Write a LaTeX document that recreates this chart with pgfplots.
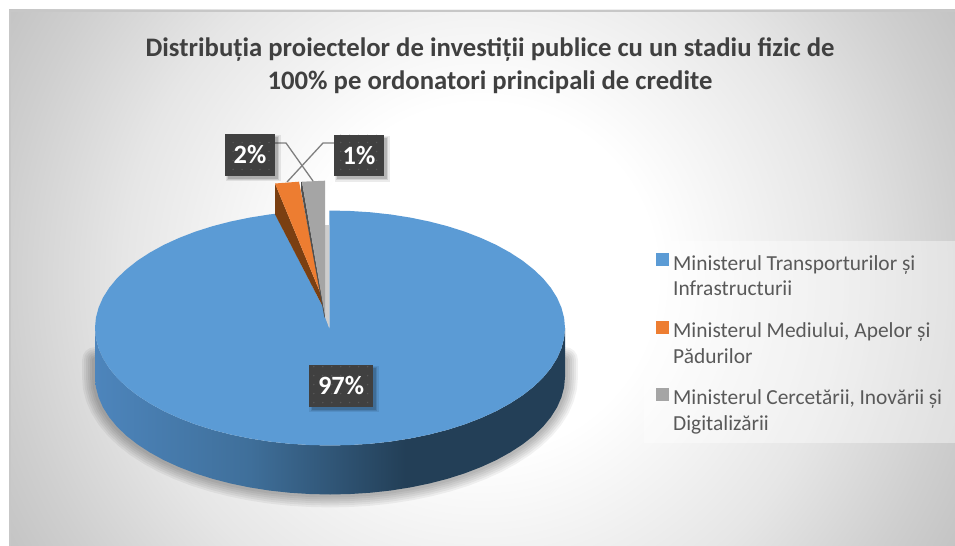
\documentclass[border=0pt]{standalone}
\usepackage{fontspec}
\setmainfont{Carlito}
\usepackage{pgfplots}
\usepackage{pgfplotstable}
\pgfplotsset{compat=1.18}
\usetikzlibrary{patterns.meta,shadows}
\definecolor{blueTop}{HTML}{5B9BD5}
\definecolor{orangeTop}{HTML}{ED7D31}
\definecolor{grayTop}{HTML}{A5A5A5}
\definecolor{brownSide}{HTML}{7A3F12}
\definecolor{graySide}{HTML}{505050}
\definecolor{grayWall}{HTML}{CDCDCD}
\definecolor{wallA}{HTML}{4D85BC}
\definecolor{wallM}{HTML}{3F6F9A}
\definecolor{wallB}{HTML}{233F57}
\definecolor{bgEnd}{HTML}{C4C4C4}
\definecolor{bgMid}{HTML}{E6E6E6}
\definecolor{bgOut}{HTML}{CFCFCF}
\definecolor{labelBox}{HTML}{404040}
\definecolor{labelDot}{HTML}{585858}
\definecolor{leader}{HTML}{7F7F7F}
\definecolor{titleText}{HTML}{404040}
\definecolor{legendText}{HTML}{595959}
% pgf maps a path's box onto the middle 25bp..75bp of a shading
\pgfdeclareradialshading{chartbg}{\pgfpointorigin}{
  color(0bp)=(white); color(8bp)=(white); color(16.5bp)=(bgMid);
  color(22bp)=(bgOut); color(25bp)=(bgEnd); color(50bp)=(bgEnd)}
\pgfdeclarehorizontalshading{pieside}{100bp}{
  color(0bp)=(wallA); color(25bp)=(wallA); color(41.5bp)=(wallM); color(58bp)=(wallB); color(100bp)=(wallB)}

% lower edge of the pie's side wall, for the soft shadow
\pgfplotstableread{
x y
95 360
95 377
95.9 387.2
98.6 397.4
103.0 407.4
109.2 417.2
117.0 426.7
126.5 435.8
137.5 444.4
150.0 452.5
163.8 460.1
178.9 467.0
195.2 473.3
212.5 478.8
230.7 483.5
249.6 487.4
269.2 490.5
289.2 492.7
309.5 494.0
330 494.5
350.5 494.0
370.8 492.7
390.8 490.5
410.4 487.4
429.3 483.5
447.5 478.8
464.8 473.3
481.1 467.0
496.2 460.1
510.0 452.5
522.5 444.4
533.5 435.8
543.0 426.7
550.8 417.2
557.0 407.4
561.4 397.4
564.1 387.2
565 377
565 360
}\wallbottom

\tikzset{
  pct/.style={
    fill=labelBox, postaction={pattern={Dots[distance=9pt,radius=0.8pt]}, pattern color=labelDot},
    general shadow={fill=black, opacity=.08, shadow xshift=3pt, shadow yshift=-3pt, shadow scale=1.10},
    general shadow={fill=black, opacity=.10, shadow xshift=3pt, shadow yshift=-3pt, shadow scale=1.04},
    general shadow={fill=black, opacity=.14, shadow xshift=3pt, shadow yshift=-3pt},
    minimum width=50pt, minimum height=42pt, inner sep=0pt,
    text=white, font=\fontsize{26.5}{30}\selectfont\bfseries},
}

\begin{document}
\begin{tikzpicture}
\begin{axis}[
  width=955bp, height=546bp, scale only axis,
  xmin=0, xmax=955, ymin=0, ymax=546, y dir=reverse,
  axis lines=none,
  title={Distribuția proiectelor de investiții publice cu un stadiu fizic de\\100\% pe ordonatori principali de credite},
  title style={at={(axis cs:490,44)}, anchor=north, align=center, text=titleText,
    inner sep=0pt, font=\fontsize{26.8}{33}\selectfont\bfseries},
  legend style={at={(axis cs:656,253)}, anchor=north west, draw=none, fill=none,
    text=legendText, font=\fontsize{21.5}{26}\selectfont, inner sep=0pt,
    row sep=47pt},
  legend cell align=left,
  legend image code/.code={
    \fill[#1] (0pt,-3pt) rectangle (13pt,10pt);
    \path (15pt,0pt);},
]
% page extent
\path (axis cs:0,0) rectangle (axis cs:955,546);
% background
\begin{scope}
  \clip (axis cs:9,10) rectangle (axis cs:955,546);
  \shade[shading=chartbg] (axis cs:482,278) circle [radius=544bp];
\end{scope}
\addplot[forget plot, draw=black!22, line width=2pt] coordinates {(10,546) (10,11) (955,11)};
% legend panel
\addplot[forget plot, draw=none, fill=white, fill opacity=0.4] coordinates {(644,241) (955,241) (955,443) (644,443)} --cycle;

% shadow under the pie
\pgfplotsinvokeforeach{26,22,18,14,10,6}{
  \addplot[forget plot, draw=black, opacity=0.05, line width=#1pt, line join=round, line cap=round] table {\wallbottom};
}

% side wall
\addplot[forget plot, draw=none, shade, shading=pieside] coordinates {
 (565,328) (564.1,338.2) (561.4,348.4) (557.0,358.4) (550.8,368.2) (543.0,377.7) (533.5,386.8) (522.5,395.4)
 (510.0,403.5) (496.2,411.1) (481.1,418.0) (464.8,424.3) (447.5,429.8) (429.3,434.5) (410.4,438.4) (390.8,441.5)
 (370.8,443.7) (350.5,445.0) (330,445.5) (309.5,445.0) (289.2,443.7) (269.2,441.5) (249.6,438.4) (230.7,434.5)
 (212.5,429.8) (195.2,424.3) (178.9,418.0) (163.8,411.1) (150.0,403.5) (137.5,395.4) (126.5,386.8) (117.0,377.7)
 (109.2,368.2) (103.0,358.4) (98.6,348.4) (95.9,338.2) (95,328)
 (95,377) (95.9,387.2) (98.6,397.4) (103.0,407.4) (109.2,417.2) (117.0,426.7) (126.5,435.8) (137.5,444.4)
 (150.0,452.5) (163.8,460.1) (178.9,467.0) (195.2,473.3) (212.5,478.8) (230.7,483.5) (249.6,487.4) (269.2,490.5)
 (289.2,492.7) (309.5,494.0) (330,494.5) (350.5,494.0) (370.8,492.7) (390.8,490.5) (410.4,487.4) (429.3,483.5)
 (447.5,478.8) (464.8,473.3) (481.1,467.0) (496.2,460.1) (510.0,452.5) (522.5,444.4) (533.5,435.8) (543.0,426.7)
 (550.8,417.2) (557.0,407.4) (561.4,397.4) (564.1,387.2) (565,377)
} --cycle;

% 97% slice
\addplot[draw=none, fill=blueTop] coordinates {
 (329.3,328.3) (329.3,210.5) (350.5,211.0) (370.8,212.3) (390.8,214.5) (410.4,217.6) (429.3,221.5) (447.5,226.2)
 (464.8,231.7) (481.1,238.0) (496.2,244.9) (510.0,252.5) (522.5,260.6) (533.5,269.3) (543.0,278.3) (550.8,287.8)
 (557.0,297.6) (561.4,307.6) (564.1,317.8) (565,328) (564.1,338.2) (561.4,348.4) (557.0,358.4) (550.8,368.2)
 (543.0,377.7) (533.5,386.8) (522.5,395.4) (510.0,403.5) (496.2,411.1) (481.1,418.0) (464.8,424.3) (447.5,429.8)
 (429.3,434.5) (410.4,438.4) (390.8,441.5) (370.8,443.7) (350.5,445.0) (330,445.5) (309.5,445.0) (289.2,443.7)
 (269.2,441.5) (249.6,438.4) (230.7,434.5) (212.5,429.8) (195.2,424.3) (178.9,418.0) (163.8,411.1) (150.0,403.5)
 (137.5,395.4) (126.5,386.8) (117.0,377.7) (109.2,368.2) (103.0,358.4) (98.6,348.4) (95.9,338.2) (95,328)
 (95.9,317.8) (98.6,307.6) (103.0,297.6) (109.2,287.8) (117.0,278.3) (126.5,269.3) (137.5,260.6) (150.0,252.5)
 (163.8,244.9) (178.9,238.0) (195.2,231.7) (212.5,226.2) (230.7,221.5) (249.6,217.6) (269.2,214.5) (275,213.8)
 (323,307)
} --cycle;
\addlegendentry{\parbox[t]{270pt}{Ministerul Transporturilor și\\Infrastructurii}}
\addplot[forget plot, draw=none, fill=grayWall] coordinates {(325,225) (329.3,225) (329.3,328.3) (325,317)} --cycle;

% 2% slice
\addplot[forget plot, draw=none, fill=brownSide] coordinates {(275,183.5) (275,214.3) (323,307) (322,297)} --cycle;
\addplot[draw=none, fill=orangeTop] coordinates {(275,183.5) (299,181.7) (322,297)} --cycle;
\addlegendentry{\parbox[t]{270pt}{Ministerul Mediului, Apelor și\\Pădurilor}}

% 1% slice
\addplot[forget plot, draw=none, fill=graySide] coordinates {(301,182.3) (302,181.7) (325,315) (324.5,318) (301,190)} --cycle;
\addplot[draw=none, fill=grayTop] coordinates {(302,181.7) (325,180.7) (325,316)} --cycle;
\addlegendentry{\parbox[t]{270pt}{Ministerul Cercetării, Inovării și\\Digitalizării}}

% leader lines
\addplot[forget plot, leader, line width=1.3pt] coordinates {(275,143) (286,143) (313,181)};
\addplot[forget plot, leader, line width=1.3pt] coordinates {(334,143) (323,143) (287,182)};

\node[pct] at (axis cs:250,155) {2\%};
\node[pct] at (axis cs:359,155.5) {1\%};
\node[pct, minimum width=64pt] at (axis cs:341,386) {97\%};
\end{axis}
\end{tikzpicture}
\end{document}
